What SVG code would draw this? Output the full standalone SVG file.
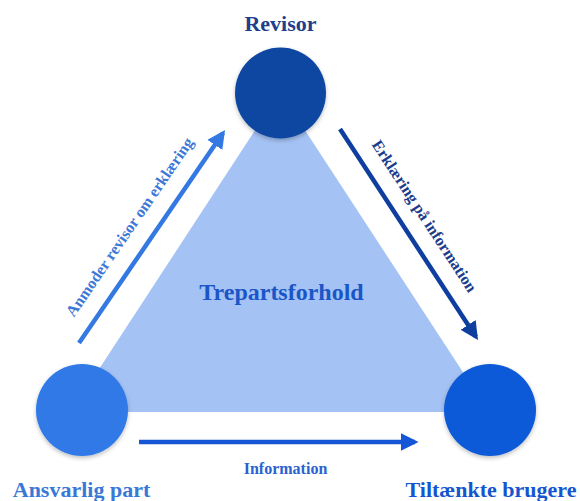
<svg xmlns="http://www.w3.org/2000/svg" width="580" height="501" viewBox="0 0 580 501">
  <defs>
    <filter id="sh" x="-20%" y="-20%" width="140%" height="150%">
      <feDropShadow dx="0" dy="2" stdDeviation="2" flood-color="#000" flood-opacity="0.25"/>
    </filter>
    <marker id="hLeft" markerWidth="4" markerHeight="4" refX="3.2" refY="2" orient="auto" markerUnits="strokeWidth" viewBox="0 0 4 4">
      <path d="M0,0 L4,2 L0,4 Z" fill="#3478e2"/>
    </marker>
    <marker id="hRight" markerWidth="4" markerHeight="4" refX="3.2" refY="2" orient="auto" markerUnits="strokeWidth" viewBox="0 0 4 4">
      <path d="M0,0 L4,2 L0,4 Z" fill="#0e3f9e"/>
    </marker>
    <marker id="hBottom" markerWidth="4" markerHeight="4" refX="3.2" refY="2" orient="auto" markerUnits="strokeWidth" viewBox="0 0 4 4">
      <path d="M0,0 L4,2 L0,4 Z" fill="#1556d6"/>
    </marker>
  </defs>
  <style>
    text { font-family: "Liberation Serif", "Times New Roman", serif; font-weight: bold; }
    .lbl { font-size: 22px; text-anchor: middle; }
    .arr { fill: none; stroke-width: 4.5; stroke-linecap: butt; }
  </style>
  <rect width="580" height="501" fill="#ffffff"/>

  <g id="triangle">
    <polygon points="280,92 71,412 489,412" fill="#a4c2f4"/>
    <text x="281.5" y="300" font-size="24" text-anchor="middle" fill="#1a56c8">Trepartsforhold</text>
  </g>

  <g id="connectors">
    <line class="arr" x1="79" y1="343" x2="223" y2="133" stroke="#3478e2" marker-end="url(#hLeft)"/>
    <line class="arr" x1="340" y1="129" x2="476" y2="337" stroke="#0e3f9e" marker-end="url(#hRight)"/>
    <line class="arr" x1="139" y1="442" x2="415" y2="442" stroke="#1556d6" marker-end="url(#hBottom)"/>
    <text x="134" y="230" font-size="16" text-anchor="middle" fill="#3c78d8" transform="rotate(-55.6 134 230)">Anmoder revisor om erklæring</text>
    <text x="420" y="219" font-size="16" text-anchor="middle" fill="#1b3c8c" transform="rotate(56.8 420 219)">Erklæring på information</text>
    <text x="285.5" y="474" font-size="16" text-anchor="middle" fill="#2a62d0">Information</text>
  </g>

  <g id="revisor">
    <circle cx="280.5" cy="93" r="45.5" fill="#0e47a1" filter="url(#sh)"/>
    <text class="lbl" x="280.5" y="31" fill="#1f3e8c">Revisor</text>
  </g>

  <g id="ansvarlig-part">
    <circle cx="82" cy="410" r="46" fill="#3079e8" filter="url(#sh)"/>
    <text class="lbl" x="81.5" y="497" fill="#3a78d8">Ansvarlig part</text>
  </g>

  <g id="tiltaenkte-brugere">
    <circle cx="490" cy="410" r="46" fill="#0f5ad8" filter="url(#sh)"/>
    <text class="lbl" x="491" y="497" fill="#1456cf">Tiltænkte brugere</text>
  </g>
</svg>
